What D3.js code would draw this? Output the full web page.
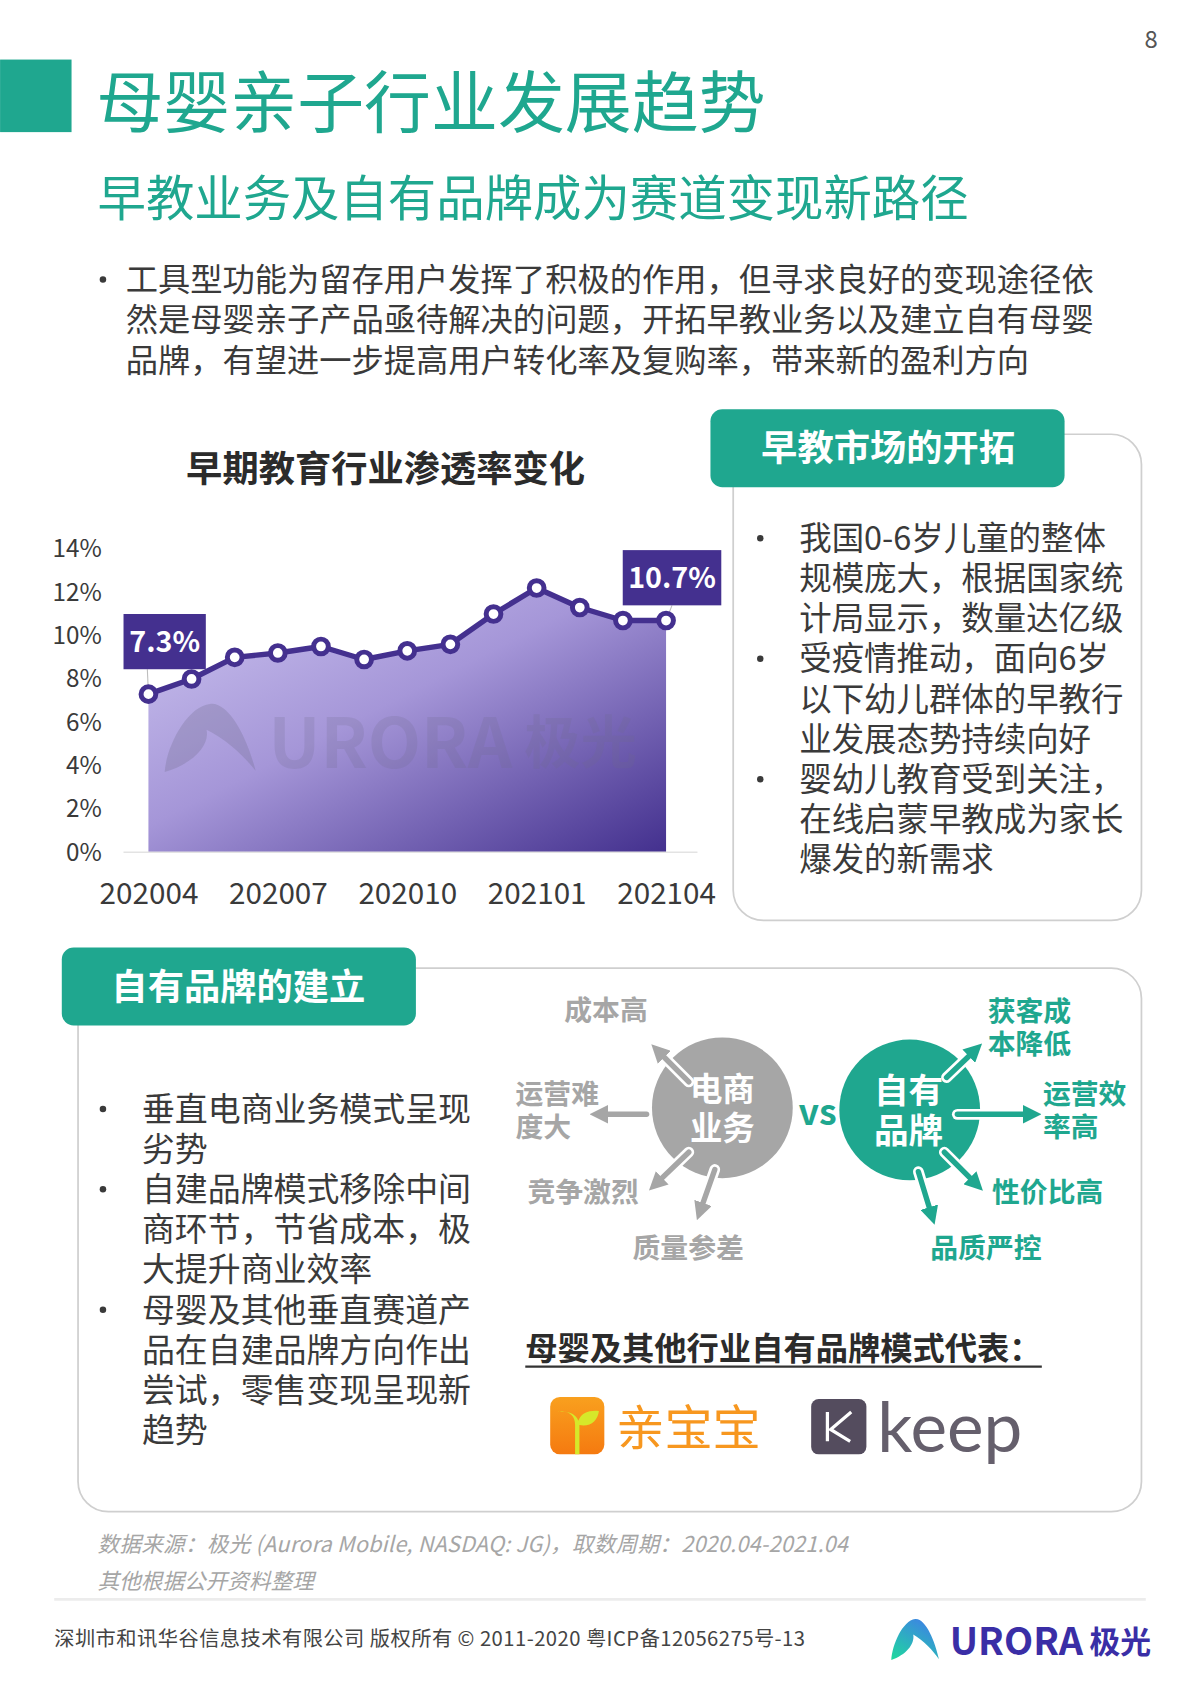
<!DOCTYPE html>
<html>
<head>
<meta charset="utf-8">
<script src="https://cdn.jsdelivr.net/npm/d3@7"></script>
<style>
body{margin:0;background:#fff}
text{font-family:"Noto Sans CJK SC","Noto Sans",sans-serif}
</style>
</head>
<body>
<svg id="page" width="1200" height="1698" viewBox="0 0 1108 1568"></svg>
<script>
//chart data
var months=["202004","202005","202006","202007","202008","202009","202010","202011","202012","202101","202102","202103","202104"];
var rates=[7.3,8.0,9.0,9.2,9.5,8.9,9.3,9.6,11.0,12.2,11.3,10.7,10.7];
var monthTicks=["202004","202007","202010","202101","202104"];
var rateTicks=[0,2,4,6,8,10,12,14];
var calloutLabels=["7.3%","10.7%"];

//page text, \uFF0C and \uFF1A are the full width comma and colon
var pageTitle="母婴亲子行业发展趋势";
var pageSubtitle="早教业务及自有品牌成为赛道变现新路径";
var introLines=["工具型功能为留存用户发挥了积极的作用\uFF0C但寻求良好的变现途径依","然是母婴亲子产品亟待解决的问题\uFF0C开拓早教业务以及建立自有母婴","品牌\uFF0C有望进一步提高用户转化率及复购率\uFF0C带来新的盈利方向"];
var chartTitle="早期教育行业渗透率变化";
var earlyHeader="早教市场的开拓";
var earlyLines=["我国0-6岁儿童的整体","规模庞大\uFF0C根据国家统","计局显示\uFF0C数量达亿级","受疫情推动\uFF0C面向6岁","以下幼儿群体的早教行","业发展态势持续向好","婴幼儿教育受到关注\uFF0C","在线启蒙早教成为家长","爆发的新需求"];
var earlyBullets=[0,3,6];
var brandHeader="自有品牌的建立";
var brandLines=["垂直电商业务模式呈现","劣势","自建品牌模式移除中间","商环节\uFF0C节省成本\uFF0C极","大提升商业效率","母婴及其他垂直赛道产","品在自建品牌方向作出","尝试\uFF0C零售变现呈现新","趋势"];
var brandBullets=[0,2,5];
var repsTitle="母婴及其他行业自有品牌模式代表\uFF1A";
var sourceNote="数据来源\uFF1A极光 (Aurora Mobile, NASDAQ: JG)\uFF0C取数周期\uFF1A2020.04-2021.04";

var green="#1fa78f", purple="#44308f", gray="#a6a6a6", ink="#3a3a3a";
var svg=d3.select("#page");

//small helper for text, everything on the page goes through it
function txt(parent,x,y,s,size,fill,opt){
    opt=opt||{};
    return parent.append("text")
        .attr("x",x).attr("y",y)
        .attr("dy","0.36em")
        .attr("font-size",size)
        .attr("fill",fill)
        .attr("text-anchor",opt.anchor||"start")
        .attr("font-weight",opt.weight||400)
        .attr("font-style",opt.style||"normal")
        .attr("letter-spacing",opt.spacing||0)
        .text(s);
}

//bullet list with a fixed line step
function bulletList(lines,bullets,xDot,xText,yTop,step,size){
    lines.forEach(function(line,i){
        txt(svg,xText,yTop+i*step,line,size,ink);
        if(bullets.indexOf(i)>=0){
            svg.append("circle").attr("cx",xDot).attr("cy",yTop+i*step).attr("r",3).attr("fill",ink);
        }
    });
}

function panel(x,y,w,h,hx,hy,title,titleX){
    svg.append("rect").attr("x",x).attr("y",y).attr("width",w).attr("height",h)
        .attr("rx",28).attr("fill","#fff").attr("stroke","#cfcfcf").attr("stroke-width",1.6);
    svg.append("rect").attr("x",hx).attr("y",hy).attr("width",327).attr("height",72)
        .attr("rx",11).attr("fill",green);
    txt(svg,titleX,hy+36,title,33.5,"#fff",{anchor:"middle",weight:700});
}

//swoosh A used by the watermark and the footer logo
function logoA(parent,x,y,w,h,fill,opacity){
    parent.append("path")
        .attr("d","M0,100 C2,62 24,4 50,0 C72,-3 92,55 100,98 C88,78 68,52 46,38 C50,62 30,88 0,100 Z")
        .attr("transform","translate("+x+","+y+") scale("+(w/100)+","+(h/100)+")")
        .attr("fill",fill).attr("opacity",opacity);
}

//header block
txt(svg,1063,36,"8",22,"#555",{anchor:"middle"});
svg.append("rect").attr("x",0).attr("y",55).attr("width",66).attr("height",67).attr("fill",green);
txt(svg,89,95,pageTitle,61.8,green);
txt(svg,90,183,pageSubtitle,44.7,green);
bulletList(introLines,[0],95,116,258,37.2,29.8);

//area chart
var defs=svg.append("defs");
var grad=defs.append("linearGradient").attr("id","areaFill")
    .attr("x1",0).attr("y1",0).attr("x2",1).attr("y2",1);
grad.append("stop").attr("offset",0).attr("stop-color","#cdc5f0");
grad.append("stop").attr("offset",0.45).attr("stop-color","#a596d8");
grad.append("stop").attr("offset",1).attr("stop-color","#43308e");
var footGrad=defs.append("linearGradient").attr("id","logoFill")
    .attr("x1",0.8).attr("y1",0).attr("x2",0.1).attr("y2",1);
footGrad.append("stop").attr("offset",0).attr("stop-color","#3f7fe8");
footGrad.append("stop").attr("offset",1).attr("stop-color","#1fd6a0");

txt(svg,356,433,chartTitle,33.5,"#2b2b2b",{anchor:"middle",weight:700});

var x=d3.scalePoint().domain(months).range([137,615]);
var y=d3.scaleLinear().domain([0,14]).range([787,507]);

var area=d3.area().x(function(d,i){return x(months[i]);}).y0(y(0)).y1(function(d){return y(d);});
var line=d3.line().x(function(d,i){return x(months[i]);}).y(function(d){return y(d);});

svg.append("path").datum(rates).attr("d",area).attr("fill","url(#areaFill)");

//watermark over the area
var mark=svg.append("g");
logoA(mark,152,650,84,63,"#6f6a8c",0.28);
txt(mark,248,686,"URORA",64,"#6f6a8c",{weight:700}).attr("opacity",0.2);
txt(mark,484,686,"极光",52,"#6f6a8c",{weight:700}).attr("opacity",0.2);

svg.append("line").attr("x1",114).attr("x2",644).attr("y1",y(0)).attr("y2",y(0))
    .attr("stroke","#e3e3e3").attr("stroke-width",1.5);

var yAxis=d3.axisLeft(y).tickValues(rateTicks).tickSize(0).tickPadding(0)
    .tickFormat(function(d){return d+"%";});
var yg=svg.append("g").attr("transform","translate(94,0)").call(yAxis);
yg.select(".domain").remove();
yg.selectAll("text").attr("font-size",22.4).attr("fill",ink)
    .style("font-family",'"Noto Sans CJK SC"');

var xAxis=d3.axisBottom(x).tickValues(monthTicks).tickSize(0).tickPadding(0);
var xg=svg.append("g").attr("transform","translate(0,815)").call(xAxis);
xg.select(".domain").remove();
xg.selectAll("text").attr("font-size",27.4).attr("fill",ink)
    .style("font-family",'"Noto Sans CJK SC"');

//callouts with their leader lines, first and last point
[[0,114,567,76,51],[12,575,508,91,51]].forEach(function(c,n){
    var px=x(months[c[0]]), py=y(rates[c[0]]);
    var lx=n==0?c[1]+22:c[1]+c[3]*0.5;
    svg.append("line").attr("x1",lx).attr("y1",c[2]+c[4]).attr("x2",px).attr("y2",py)
        .attr("stroke","#bdbdbd").attr("stroke-width",1);
    svg.append("rect").attr("x",c[1]).attr("y",c[2]).attr("width",c[3]).attr("height",c[4]).attr("fill",purple);
    txt(svg,c[1]+c[3]/2,c[2]+c[4]/2,calloutLabels[n],26.5,"#fff",{anchor:"middle",weight:700});
});

svg.append("path").datum(rates).attr("d",line).attr("fill","none")
    .attr("stroke",purple).attr("stroke-width",5).attr("stroke-linejoin","round");
svg.selectAll("circle.pt").data(rates).enter().append("circle").attr("class","pt")
    .attr("cx",function(d,i){return x(months[i]);})
    .attr("cy",function(d){return y(d);})
    .attr("r",6.8).attr("fill","#fff").attr("stroke",purple).attr("stroke-width",4.6);

//right panel
panel(677,401,377,449,656,378,earlyHeader,820);
bulletList(earlyLines,earlyBullets,702,738,497,37.1,29.95);

//bottom panel
panel(72,894,982,502,57,875,brandHeader,220);
bulletList(brandLines,brandBullets,95,131,1024,37.1,30.4);

//comparison diagram
var arrowId=0;
function arrow(x1,y1,x2,y2,col){
    arrowId++;
    var id="ah"+arrowId;
    defs.append("marker").attr("id",id).attr("viewBox","0 0 10 10").attr("refX",2).attr("refY",5)
        .attr("markerWidth",3.4).attr("markerHeight",3.4).attr("orient","auto")
        .append("path").attr("d","M0,0 L10,5 L0,10 Z").attr("fill",col);
    svg.append("line").attr("x1",x1).attr("y1",y1).attr("x2",x2).attr("y2",y2)
        .attr("stroke","#fff").attr("stroke-width",10).attr("stroke-linecap","round");
    svg.append("line").attr("x1",x1).attr("y1",y1).attr("x2",x2).attr("y2",y2)
        .attr("stroke",col).attr("stroke-width",5).attr("stroke-linecap","round")
        .attr("marker-end","url(#"+id+")");
}
svg.append("circle").attr("cx",667).attr("cy",1023).attr("r",65).attr("fill",gray);
svg.append("circle").attr("cx",840).attr("cy",1025).attr("r",65).attr("fill",green);
arrow(636,999,611,974,gray);
arrow(597,1029,558,1029,gray);
arrow(636,1064,609,1090,gray);
arrow(660,1080,648,1114,gray);
arrow(874,995,897,973,green);
arrow(884,1029,948,1029,green);
arrow(872,1064,898,1090,green);
arrow(848,1082,859,1118,green);

txt(svg,667,1006,"电商",30,"#fff",{anchor:"middle",weight:700});
txt(svg,667,1042,"业务",30,"#fff",{anchor:"middle",weight:700});
txt(svg,839,1007,"自有",32,"#fff",{anchor:"middle",weight:700});
txt(svg,839,1044,"品牌",32,"#fff",{anchor:"middle",weight:700});
txt(svg,755,1027,"vs",33,green,{anchor:"middle",weight:700});

[["成本高",521,933],["运营难",476,1010],["度大",476,1041],["竞争激烈",487,1101],["质量参差",584,1152]].forEach(function(t){
    txt(svg,t[1],t[2],t[0],25.7,gray,{weight:700});
});
[["获客成",912,934],["本降低",912,964],["运营效",963,1010],["率高",963,1041],["性价比高",916,1101],["品质严控",859,1152]].forEach(function(t){
    txt(svg,t[1],t[2],t[0],25.7,green,{weight:700});
});

//brand logos
txt(svg,485,1245,repsTitle,29.8,"#2b2b2b",{weight:700});
svg.append("line").attr("x1",485).attr("x2",962).attr("y1",1262).attr("y2",1262)
    .attr("stroke","#333").attr("stroke-width",2);

var orange=defs.append("linearGradient").attr("id","orangeFill").attr("x1",0).attr("y1",0).attr("x2",0).attr("y2",1);
orange.append("stop").attr("offset",0).attr("stop-color","#f9a01e");
orange.append("stop").attr("offset",1).attr("stop-color","#f57a10");
svg.append("rect").attr("x",508).attr("y",1290).attr("width",50).attr("height",53).attr("rx",9).attr("fill","url(#orangeFill)");
svg.append("path").attr("d","M514,1304 C524,1302 531,1306 531,1316 L531,1343 L535,1343 L535,1316 C545,1318 552,1312 553,1303 C545,1302 537,1304 534,1312 C532,1306 524,1302 514,1304 Z").attr("fill","#d6e82a");
txt(svg,569,1318,"亲宝宝",44.5,"#f7971f");

svg.append("rect").attr("x",749).attr("y",1292).attr("width",51).attr("height",51).attr("rx",7).attr("fill","#544c5e");
svg.append("path").attr("d","M764,1304 L764,1331 M786,1304 L767,1320 L785,1331").attr("fill","none").attr("stroke","#fff").attr("stroke-width",3);
txt(svg,810,1318,"keep",64,"#655f6c").attr("font-weight",400).style("font-family","Lato");

//source notes and footer
txt(svg,90,1426,sourceNote,20,"#a6a6a6",{style:"italic",spacing:0.2});
txt(svg,90,1460,"其他根据公开资料整理",20,"#a6a6a6",{style:"italic"});
svg.append("line").attr("x1",50).attr("x2",1058).attr("y1",1477).attr("y2",1477)
    .attr("stroke","#ececec").attr("stroke-width",2.5);
txt(svg,50,1513,"深圳市和讯华谷信息技术有限公司 版权所有 © 2011-2020 粤ICP备12056275号-13",18.7,"#444",{spacing:0.42});
logoA(svg,823,1495,44,38,"url(#logoFill)",1);
txt(svg,877,1516,"URORA",35,"#3a2ea6",{weight:700});
txt(svg,1006,1516,"极光",28.5,"#3a2ea6",{weight:700});
</script>
</body>
</html>
